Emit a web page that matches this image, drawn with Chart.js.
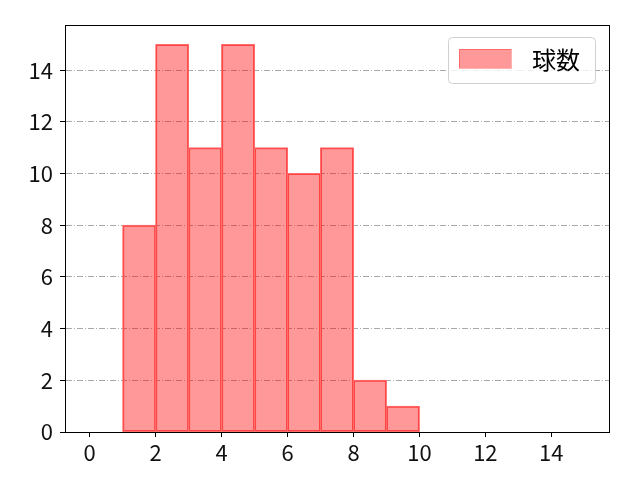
<!DOCTYPE html>
<html>
<head>
<meta charset="utf-8">
<script src="https://cdn.jsdelivr.net/npm/chart.js@4/dist/chart.umd.min.js"></script>
<style>
  html, body { margin: 0; padding: 0; background: #fff; }
  #wrap { width: 640px; height: 480px; }
</style>
</head>
<body>
<div id="wrap"><canvas id="histChart" width="640" height="480"></canvas></div>
<script>
// Histogram bins (left edges, width 1) and counts
const binStarts = [0, 1, 2, 3, 4, 5, 6, 7, 8, 9, 10, 11, 12, 13, 14];
const counts = [0, 8, 15, 11, 15, 11, 10, 11, 2, 1, 0, 0, 0, 0, 0];
const seriesLabel = '球数';
const xTicks = [0, 2, 4, 6, 8, 10, 12, 14];
const yTicks = [0, 2, 4, 6, 8, 10, 12, 14];

const FONT = '"Noto Sans CJK JP", "Noto Sans", sans-serif';

// full black box around the plot, like matplotlib spines
const frameBox = {
    id: 'frameBox',
    afterDraw(chart) {
        const { ctx, chartArea: a } = chart;
        ctx.save();
        ctx.strokeStyle = '#000';
        ctx.lineWidth = 1;
        ctx.strokeRect(Math.round(a.left) + 0.5, Math.round(a.top) + 0.5,
            Math.round(a.right - a.left), Math.round(a.bottom - a.top));
        ctx.restore();
    }
};

// legend drawn inside the plot, top right, with rounded frame
const insideLegend = {
    id: 'insideLegend',
    afterDraw(chart) {
        const { ctx, chartArea: a } = chart;
        const ds = chart.data.datasets[0];
        const x = a.right - 161, y = a.top + 12, w = 147, h = 46;
        ctx.save();
        ctx.fillStyle = 'rgba(255,255,255,0.8)';
        ctx.strokeStyle = '#d0d0d0';
        ctx.lineWidth = 1;
        ctx.beginPath();
        ctx.roundRect(x + 0.5, y + 0.5, w, h, 4);
        ctx.fill();
        ctx.stroke();
        ctx.fillStyle = ds.backgroundColor;
        ctx.fillRect(x + 11, y + 12, 52, 19);
        ctx.strokeStyle = 'rgba(255, 0, 0, 0.3)';
        ctx.strokeRect(x + 11.5, y + 12.5, 52, 19);
        ctx.fillStyle = '#000';
        ctx.font = '24px ' + FONT;
        ctx.textBaseline = 'middle';
        ctx.fillText(ds.label, x + 84, y + 23);
        ctx.restore();
    }
};

new Chart(document.getElementById('histChart').getContext('2d'), {
    type: 'bar',
    data: {
        datasets: [{
            label: seriesLabel,
            data: binStarts.map((b, i) => ({ x: b + 0.5, y: counts[i] })),
            backgroundColor: 'rgba(255, 0, 0, 0.4)',
            borderColor: '#ff6e6e',
            borderWidth: 1,
            borderSkipped: false,
            inflateAmount: 0.5,
            barPercentage: 1,
            categoryPercentage: 1
        }]
    },
    options: {
        responsive: false,
        animation: false,
        layout: { padding: { top: 25, right: 31, left: 0, bottom: 0 } },
        plugins: { legend: { display: false }, tooltip: { enabled: false } },
        scales: {
            x: {
                type: 'linear',
                offset: false,
                min: -0.75,
                max: 15.75,
                afterBuildTicks: s => { s.ticks = xTicks.map(v => ({ value: v })); },
                afterFit: s => { s.height = 48; },
                grid: { offset: false, drawOnChartArea: false, tickLength: 5, tickColor: '#000' },
                border: { color: '#000' },
                ticks: { color: '#111', font: { family: FONT, size: 22 }, padding: 2, maxRotation: 0 }
            },
            y: {
                min: 0,
                max: 15.75,
                afterBuildTicks: s => { s.ticks = yTicks.map(v => ({ value: v })); },
                afterFit: s => { s.width = 65; },
                grid: {
                    color: '#aaaaaa',
                    lineWidth: 1,
                    tickLength: 5,
                    tickColor: '#000',
                    tickBorderDash: []
                },
                border: { color: '#000', dash: [6, 2, 1, 2] },
                ticks: { color: '#111', font: { family: FONT, size: 22 }, padding: 7 }
            }
        }
    },
    plugins: [frameBox, insideLegend]
});
</script>
</body>
</html>
